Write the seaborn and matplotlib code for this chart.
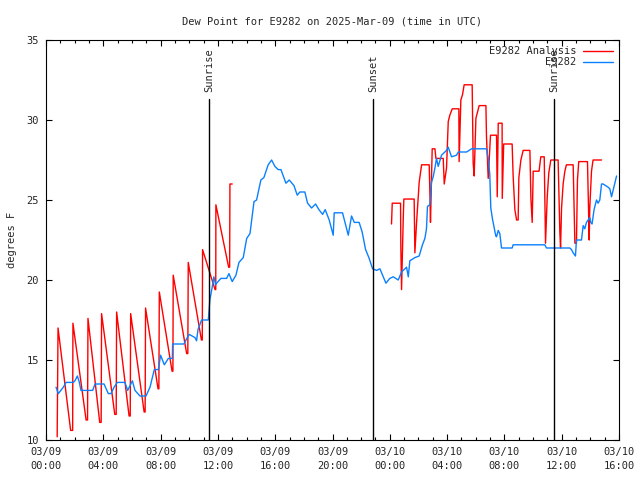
import numpy as np
import pandas as pd
import matplotlib
matplotlib.use("Agg")
import matplotlib.pyplot as plt
import matplotlib.dates as mdates
import seaborn as sns

# hours after 2025-03-09 00:00 UTC
obs_hours = [0.70, 0.86, 1.21, 1.40, 1.91, 2.02, 2.19, 2.33, 2.44, 3.26, 3.42, 4.05, 4.35, 4.54,
             4.75, 4.98, 5.51, 5.70, 6.03, 6.21, 6.56, 6.98, 7.26, 7.56, 7.84, 8.00, 8.26, 8.54,
             8.82, 8.84, 9.63, 9.86, 10.00, 10.40, 10.51, 10.61, 10.86, 11.33, 11.44, 11.61,
             11.72, 11.84, 11.91, 12.21, 12.61, 12.77, 13.00, 13.26, 13.47, 13.77, 14.01, 14.24,
             14.52, 14.70, 15.00, 15.21, 15.51, 15.75, 15.98, 16.21, 16.40, 16.75, 16.98, 17.31,
             17.54, 17.72, 18.07, 18.26, 18.54, 18.82, 19.05, 19.31, 19.49, 19.77, 20.05, 20.12,
             20.70, 21.10, 21.33, 21.52, 21.86, 22.07, 22.31, 22.54, 22.80, 23.08, 23.31, 23.73,
             24.00, 24.24, 24.59, 24.82, 25.17, 25.29, 25.40, 25.75, 26.05, 26.28, 26.45, 26.56,
             26.63, 26.80, 26.91, 27.03, 27.15, 27.26, 27.38, 27.61, 27.96, 28.08, 28.31, 28.66,
             28.78, 29.36, 29.71, 30.75, 30.87, 30.98, 31.05, 31.17, 31.40, 31.45, 31.57, 31.68,
             31.80, 32.54, 32.61, 34.82, 34.94, 36.57, 36.68, 36.80, 36.96, 37.03, 37.38, 37.50,
             37.61, 37.73, 37.96, 38.03, 38.12, 38.26, 38.43, 38.54, 38.66, 38.78, 38.89, 39.24,
             39.36, 39.48, 39.59, 39.83]
obs_dewpt = [13.3, 12.9, 13.3, 13.6, 13.6, 13.7, 14.0, 13.6, 13.1, 13.1, 13.5, 13.5, 12.9, 12.9,
             13.3, 13.6, 13.6, 13.1, 13.7, 13.1, 12.75, 12.75, 13.3, 14.4, 14.4, 15.3, 14.7, 15.1,
             15.1, 16.0, 16.0, 16.4, 16.6, 16.4, 16.2, 16.9, 17.5, 17.5, 18.75, 19.6,
             20.2, 19.7, 19.8, 20.1, 20.1, 20.4, 19.9, 20.3, 21.1, 21.4, 22.6, 22.9,
             24.9, 25.0, 26.25, 26.4, 27.2, 27.5, 27.1, 26.9, 26.9, 26.05, 26.25, 25.9,
             25.3, 25.5, 25.5, 24.8, 24.5, 24.75, 24.4, 24.1, 24.4, 23.75, 22.8, 24.2,
             24.2, 22.8, 24.0, 23.6, 23.6, 23.0, 21.9, 21.4, 20.7, 20.6, 20.7, 19.8,
             20.1, 20.2, 20.0, 20.5, 20.8, 20.2, 21.2, 21.4, 21.5, 22.2, 22.6, 23.2,
             24.6, 24.7, 26.1, 26.45, 27.0, 27.6, 27.1, 27.8, 28.1, 28.3, 27.7, 27.8,
             28.0, 28.0, 28.2, 28.2, 27.6, 26.6, 24.5, 23.8, 22.75, 22.7, 23.1, 22.9,
             22.0, 22.0, 22.2, 22.2, 22.0, 22.0, 21.9, 21.7, 21.5, 22.5, 22.5, 23.4,
             23.2, 23.6, 23.9, 23.6, 23.5, 24.4, 25.0, 24.8, 25.0, 26.0, 26.0, 25.8,
             25.7, 25.2, 25.6, 26.5]

ana_hours = [0.78, 0.84, 1.72, 1.86, 1.88, 2.80, 2.90, 2.93, 3.75, 3.85, 3.88, 4.80, 4.90, 4.93,
             5.80, 5.88, 5.91, 6.85, 6.92, 6.95, 7.82, 7.88, 7.91, 8.80, 8.86, 8.88, 9.82, 9.90,
             9.93, 10.85, 10.91, 10.93, 11.80, 11.85, 11.86, 12.75, 12.82, 12.84, 13.00,
             np.nan,
             24.12, 24.17, 24.75, 24.77, 24.82, 24.94, 24.98, 25.70, 25.75, 25.87, 26.05, 26.22,
             26.75, 26.80, 26.84, 26.96, 27.15, 27.22, 27.73, 27.80, 27.96, 28.08, 28.19, 28.36,
             28.82, 28.84, 28.96, 29.08, 29.19, 29.75, 29.82, 29.89, 30.01, 30.24, 30.71, 30.75,
             30.87, 31.03, 31.45, 31.50, 31.57, 31.84, 31.85, 31.95, 32.54, 32.61, 32.73, 32.85,
             32.96, 33.01, 33.15, 33.31, 33.78, 33.85, 33.94, 34.01, 34.42, 34.54, 34.78, 34.87,
             34.99, 35.10, 35.24, 35.75, 35.87, 35.92, 35.99, 36.10, 36.22, 36.33, 36.80, 36.92,
             37.03, 37.10, 37.19, 37.80, 37.92, 37.96, 38.08, 38.19, 38.78]
ana_dewpt = [10.2, 17.0, 10.6, 10.6, 17.3, 11.25, 11.25, 17.6, 11.1, 11.1, 17.9, 11.6, 11.6, 18.0,
             11.5, 11.5, 17.9, 11.75, 11.75, 18.25, 13.2, 13.2, 19.25, 14.3, 14.3, 20.3, 15.4, 15.4,
             21.1, 16.25, 16.25, 21.9, 19.4, 19.4, 24.7, 20.8, 20.8, 26.0, 26.0,
             np.nan,
             23.5, 24.8, 24.8, 22.1, 19.4, 23.9, 25.06, 25.06, 21.7, 23.6, 26.1, 27.2,
             27.2, 25.4, 23.6, 28.2, 28.2, 27.6, 27.6, 26.0, 27.0, 29.9, 30.3, 30.7,
             30.7, 27.4, 31.25, 31.6, 32.2, 32.2, 27.3, 26.5, 30.1, 30.9, 30.9, 28.95,
             26.35, 29.05, 29.05, 25.2, 29.8, 29.8, 25.1, 28.5, 28.5, 26.5, 24.4, 23.75,
             23.75, 26.4, 27.5, 28.1, 28.1, 25.1, 23.6, 26.8, 26.8, 27.7, 27.7, 22.3,
             25.2, 26.7, 27.5, 27.5, 23.0, 22.0, 24.5, 26.0, 26.8, 27.2, 27.2, 22.3,
             22.3, 26.25, 27.4, 27.4, 22.5, 24.5, 26.8, 27.5, 27.5]

sun_hours = [11.37, 22.84, 35.47]
sun_labels = ["Sunrise", "Sunset", "Sunrise"]

start = pd.Timestamp("2025-03-09 00:00")
obs = pd.DataFrame({"time": start + pd.to_timedelta(obs_hours, unit="h"), "dewpt": obs_dewpt})
ana_t = [start + pd.Timedelta(hours=h) if not np.isnan(h) else pd.NaT for h in ana_hours]
ana = pd.DataFrame({"time": ana_t, "dewpt": ana_dewpt})

sns.set_style("ticks")
plt.rcParams["font.family"] = ["DejaVu Sans Mono"]
plt.rcParams["font.size"] = 7.5

fig = plt.figure(figsize=(6.4, 4.8), dpi=100)
ax = fig.add_axes([46 / 640, 40 / 480, 573 / 640, 400 / 480])

# analysis has a gap, so draw pieces separately to keep the break
gap = ana["dewpt"].isna()
grp = gap.cumsum()
first = True
for _, part in ana[~gap].groupby(grp[~gap]):
    sns.lineplot(data=part, x="time", y="dewpt", ax=ax, color="#ff0000", lw=1.0,
                 estimator=None, sort=False, label="E9282 Analysis" if first else None)
    first = False
sns.lineplot(data=obs, x="time", y="dewpt", ax=ax, color="#0a80ff", lw=1.0,
             estimator=None, sort=False, label="E9282")

for h, lab in zip(sun_hours, sun_labels):
    t = start + pd.Timedelta(hours=h)
    ax.plot([t, t], [10, 31.3], color="black", lw=1.0)
    ax.text(t, 31.75, lab, rotation=90, ha="center", va="bottom", fontsize=7.5)

ax.set_xlim(start, start + pd.Timedelta(hours=40))
ax.set_ylim(10, 35)
ax.set_yticks([10, 15, 20, 25, 30, 35])
ax.xaxis.set_major_locator(mdates.HourLocator(byhour=range(0, 24, 4)))
ax.xaxis.set_minor_locator(mdates.HourLocator())
ax.xaxis.set_major_formatter(mdates.DateFormatter("%m/%d\n%H:%M"))
ax.tick_params(which="both", direction="in", top=True, right=True, labelsize=7.5, color="black")
ax.tick_params(which="major", length=4.5, width=0.8, pad=5)
ax.tick_params(which="minor", length=2.2, width=0.8)
for lbl in ax.get_xticklabels():
    lbl.set_linespacing(1.5)
for s in ax.spines.values():
    s.set_color("black")
    s.set_linewidth(0.8)

ax.set_xlabel("")
ax.set_ylabel("degrees F", fontsize=7.5, labelpad=7)
ax.set_title("Dew Point for E9282 on 2025-Mar-09 (time in UTC)", fontsize=7.5, pad=11)
ax.legend(loc="upper right", frameon=False, markerfirst=False, handlelength=2.9,
          labelspacing=0.1, borderaxespad=0.2, fontsize=7.5, handletextpad=0.6)

fig.savefig("out.png", dpi=100)
